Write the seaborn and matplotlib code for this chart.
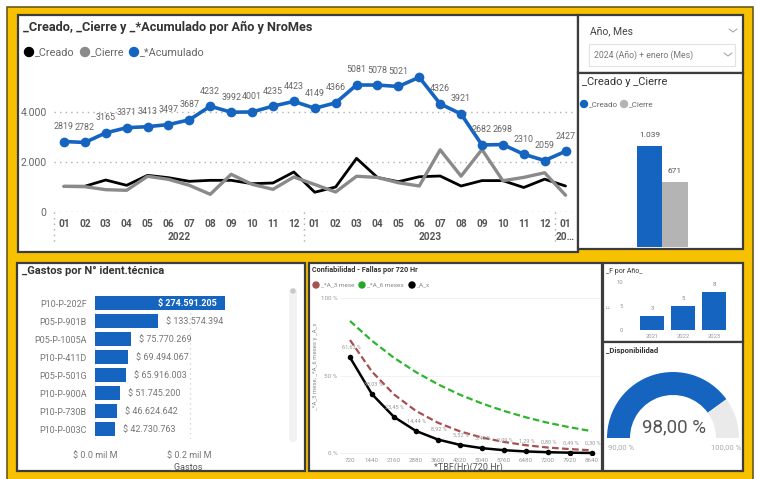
import numpy as np
import pandas as pd
import matplotlib
matplotlib.use("Agg")
import matplotlib.pyplot as plt
from matplotlib.patches import Rectangle, Wedge, FancyBboxPatch, Circle
import seaborn as sns

# ---------------- data ----------------
meses = ["01", "02", "03", "04", "05", "06", "07", "08", "09", "10", "11", "12"] * 2 + ["01"]
anios = ["2022"] * 12 + ["2023"] * 12 + ["2024"]
creado = [1027, 1030, 1280, 1067, 1467, 1373, 1227, 1267, 1267, 1133, 1160, 1600,
          790, 1000, 2145, 1380, 1212, 1410, 1440, 1040, 1255, 1255, 980, 1314, 1039]
cierre = [1027, 1013, 893, 867, 1427, 1307, 1067, 707, 1507, 1107, 907, 1400,
          1100, 800, 1430, 1382, 1171, 1040, 2487, 1434, 2500, 1250, 1385, 1570, 671]
acumulado = [2819, 2782, 3165, 3371, 3413, 3497, 3687, 4232, 3992, 4001, 4235, 4423,
             4149, 4366, 5081, 5078, 5021, 5390, 4326, 3921, 2682, 2698, 2310, 2059, 2427]
acum_sin_etiqueta = [17]

slicer_texto = "2024 (Año) + enero (Mes)"
sel_series = ["_Creado", "_Cierre"]
sel_valores = [1039, 671]

equipos = ["P10-P-202F", "P05-P-901B", "P05-P-1005A", "P10-P-411D",
           "P05-P-501G", "P10-P-900A", "P10-P-730B", "P10-P-003C"]
gastos = [274591205, 133574394, 75770269, 69494067, 65916003, 51745200, 46624642, 42730763]

tbf_hr = [720, 1440, 2160, 2880, 3600, 4320, 5040, 5760, 6480, 7200, 7920, 8640]
conf_3m = [72.8, 52.5, 37.9, 27.3, 19.7, 14.2, 10.2, 7.4, 5.3, 3.8, 2.8, 2.0]
conf_6m = [85.0, 72.3, 61.4, 52.2, 44.4, 37.7, 32.1, 27.3, 23.2, 19.7, 16.8, 14.3]
conf_x = [61.63, 38.03, 23.45, 14.44, 8.92, 5.52, 3.40, 2.09, 1.29, 0.80, 0.49, 0.30]

f_anios = ["2021", "2022", "2023"]
f_valores = [3, 5, 8]

disp_min, disp_max, disp_valor = 90.0, 100.0, 98.0

# ---------------- style ----------------
sns.set_style("white")
plt.rcParams["font.family"] = ["Roboto", "DejaVu Sans"]

BLUE = "#1565C0"
GRAY_LINE = "#8a8a8a"
LIGHT_BAR = "#b4b4b4"
YELLOW = "#F7C100"
TXT = "#666666"
TITLE = "#333333"

W, H = 757, 479
fig = plt.figure(figsize=(W / 100, H / 100), dpi=100)


def px_axes(x0, y0, x1, y1, z=1):
    ax = fig.add_axes([x0 / W, 1 - y1 / H, (x1 - x0) / W, (y1 - y0) / H], zorder=z)
    ax.set_facecolor("none")
    return ax


def pixel_canvas(z):
    ax = px_axes(0, 0, W, H, z)
    ax.set_xlim(0, W)
    ax.set_ylim(H, 0)
    ax.axis("off")
    return ax


bg = pixel_canvas(0)
ov = pixel_canvas(10)

# frame and panels
bg.add_patch(Rectangle((0, 0), W, H, color="white"))
bg.add_patch(Rectangle((7, 7), 746, 480, fc=YELLOW, ec="#6b5a1e", lw=1.2))
panels = [(18, 15, 578, 252), (578, 15, 743, 73), (578, 73, 743, 249),
          (17, 263, 305, 471), (309, 263, 602, 471), (603, 263, 743, 342), (603, 342, 743, 471)]
for x0, y0, x1, y1 in panels:
    bg.add_patch(Rectangle((x0, y0), x1 - x0, y1 - y0, fc="white", ec="#3c3c3c", lw=1.6))

dotted = (0, (1, 3))

# ---------------- main line chart ----------------
ov.text(23, 27, "_Creado, _Cierre y _*Acumulado por Año y NroMes", fontsize=9.2,
        weight="bold", color=TITLE, va="center")
for cx, col, lab in [(29, "black", "_Creado"), (85, "#8a8a8a", "_Cierre"), (134, BLUE, "_*Acumulado")]:
    ov.add_patch(Circle((cx, 52), 4.5, color=col))
    ov.text(cx + 6, 52, lab, fontsize=7.8, color=TXT, va="center")

df = pd.DataFrame({"idx": range(len(meses)), "mes": meses, "anio": anios,
                   "creado": creado, "cierre": cierre, "acumulado": acumulado})
ax1 = px_axes(53.5, 70, 576, 212, 2)
sns.lineplot(data=df, x="idx", y="creado", color="black", lw=2.0, ax=ax1)
sns.lineplot(data=df, x="idx", y="cierre", color=GRAY_LINE, lw=2.4, ax=ax1)
sns.lineplot(data=df, x="idx", y="acumulado", color=BLUE, lw=2.6, marker="o",
             markersize=7, markeredgewidth=0, ax=ax1)
ax1.set_xlim(-0.5, len(meses) - 0.5)
ax1.set_ylim(0, 5680)
ax1.set_yticks([0, 2000, 4000])
ax1.set_yticklabels(["0", "2.000", "4.000"])
ax1.set_xticks([])
ax1.tick_params(axis="y", length=0, pad=5, labelsize=7.5, labelcolor=TXT)
ax1.grid(axis="y", linestyle=dotted, color="#b0b0b0", lw=1)
ax1.set_xlabel("")
ax1.set_ylabel("")
for s in ax1.spines.values():
    s.set_visible(False)
for i, v in enumerate(acumulado):
    if i not in acum_sin_etiqueta:
        ax1.annotate(f"{v}", (i, v), xytext=(0, 15), textcoords="offset pixels",
                     ha="center", va="center", fontsize=6.4, color=TXT)
for i, m in enumerate(meses):
    ax1.annotate(m, (i, 0), xytext=(0, -12), textcoords="offset pixels", ha="center",
                 va="center", fontsize=7.3, color="#555", weight="bold", annotation_clip=False)
year_groups = df.groupby("anio")["idx"].agg(["min", "max"])
for anio, row in year_groups.iterrows():
    label = anio if row["max"] > row["min"] else anio[:2] + "…"
    ax1.annotate(label, ((row["min"] + row["max"]) / 2, 0), xytext=(0, -25),
                 textcoords="offset pixels", ha="center", va="center", fontsize=7.3,
                 color="#555", weight="bold", annotation_clip=False)
    ax1.plot([row["min"] - 0.5] * 2, [0, -33 / 142], transform=ax1.get_xaxis_transform(),
             color="#aaaaaa", lw=1, linestyle=dotted, clip_on=False)

# ---------------- slicer ----------------
ov.text(590, 31, "Año, Mes", fontsize=7.5, color="#444", va="center")
ov.plot([729, 733, 737], [29, 32, 29], color="#aaaaaa", lw=0.8)
ov.add_patch(Rectangle((589, 44), 146, 22, fc="white", ec="#e2e2e2", lw=0.8))
ov.text(594, 55, slicer_texto, fontsize=6.3, color="#777", va="center")
ov.plot([724, 728, 732], [53, 56, 53], color="#aaaaaa", lw=0.8)

# ---------------- creado / cierre bars ----------------
ov.text(582, 82, "_Creado y _Cierre", fontsize=8, color=TITLE, va="center")
ov.add_patch(Circle((584, 104), 3.5, color=BLUE))
ov.text(589, 104, "_Creado", fontsize=5.8, color=TXT, va="center")
ov.add_patch(Circle((624, 104), 3.5, color=LIGHT_BAR))
ov.text(629, 104, "_Cierre", fontsize=5.8, color=TXT, va="center")

ax2 = px_axes(612, 115, 713, 247, 2)
sns.barplot(x=sel_series, y=sel_valores, hue=sel_series, palette=[BLUE, LIGHT_BAR],
            width=1.0, saturation=1, linewidth=0, legend=False, ax=ax2)
ax2.set_xlim(-1.47, 2.49)
ax2.set_ylim(0, 1358)
ax2.axis("off")
for i, v in enumerate(sel_valores):
    ax2.annotate(f"{v:,}".replace(",", "."), (i, v), xytext=(0, 11), textcoords="offset pixels",
                 ha="center", va="center", fontsize=6, color="#555")

# ---------------- gastos ----------------
ov.text(22, 271, "_Gastos por N° ident.técnica", fontsize=8, weight="bold", color=TITLE, va="center")
ax3 = px_axes(95, 294, 280, 439, 2)
sns.barplot(x=gastos, y=equipos, orient="h", color=BLUE, saturation=1, width=0.78,
            linewidth=0, ax=ax3)
ax3.set_xlim(0, 390.7e6)
ax3.set_ylim(7.54, -0.517)
ax3.set_xticks([0, 2e8])
ax3.set_xticklabels(["$ 0.0 mil M", "$ 0.2 mil M"])
ax3.tick_params(axis="x", length=0, pad=9, labelsize=6.5, labelcolor="#777")
ax3.tick_params(axis="y", length=0, pad=6, labelsize=6.5, labelcolor="#777")
ax3.grid(axis="x", linestyle=dotted, color="#cccccc", lw=0.9)
ax3.set_axisbelow(True)
ax3.set_xlabel("_Gastos", fontsize=6.5, color="#555", labelpad=1)
ax3.set_ylabel("")
for s in ax3.spines.values():
    s.set_visible(False)
for i, v in enumerate(gastos):
    txt = "$ " + f"{v:,}".replace(",", ".")
    if v > 2e8:
        ax3.annotate(txt, (v, i), xytext=(-8, 0), textcoords="offset pixels", ha="right",
                     va="center", fontsize=6.5, color="white", weight="bold")
    else:
        ax3.annotate(txt, (v, i), xytext=(8, 0), textcoords="offset pixels", ha="left",
                     va="center", fontsize=6.5, color="#777")
ov.add_patch(FancyBboxPatch((289, 288), 8, 154, boxstyle="round,pad=0,rounding_size=4",
                            fc="#f2f2f2", ec="none"))
ov.add_patch(Circle((293, 291), 2, color="#c8c8c8"))

# ---------------- confiabilidad ----------------
ov.text(312, 270, "Confiabilidad - Fallas por 720 Hr", fontsize=5.2, weight="bold",
        color=TITLE, va="center")
for cx, col, lab in [(316, "#a85050", "_*A_3 mese"), (362, "#25a825", "_*A_6 meses"),
                     (412, "black", "_A_x")]:
    ov.add_patch(Circle((cx, 285), 3, color=col))
    ov.text(cx + 5, 285, lab, fontsize=4.6, color="#888", va="center")

ax4 = px_axes(340, 290, 600, 455, 2)
sns.lineplot(x=tbf_hr, y=conf_6m, color="#2db52d", lw=1.6, linestyle=(0, (3, 1.5)), ax=ax4)
sns.lineplot(x=tbf_hr, y=conf_3m, color="#a85050", lw=1.6, linestyle=(0, (3, 1.5)), ax=ax4)
sns.lineplot(x=tbf_hr, y=conf_x, color="black", lw=1.8, marker="o", markersize=4,
             markeredgewidth=0, ax=ax4)
ax4.set_xlim(392, 8912)
ax4.set_ylim(-1, 104.9)
ax4.set_xticks(tbf_hr)
ax4.set_xticklabels([str(t) for t in tbf_hr])
ax4.set_yticks([0, 50, 100])
ax4.set_yticklabels(["0 %", "50 %", "100 %"])
ax4.tick_params(length=0, labelsize=4.5, labelcolor="#999", pad=2)
ax4.grid(axis="y", color="#f0f0f0", lw=0.6)
ax4.set_xlabel("")
ax4.set_ylabel("")
for s in ax4.spines.values():
    s.set_visible(False)
for t, v in zip(tbf_hr, conf_x):
    ax4.annotate(f"{v:.2f} %".replace(".", ","), (t, v), xytext=(1, 10),
                 textcoords="offset pixels", ha="center", va="center", fontsize=4,
                 color="#999")
ov.text(316, 366, "_*A_3 mese, _*A_6 meses y _A_x", rotation=90, fontsize=4.3,
        color="#888", ha="center", va="center")
ov.text(468, 467, "*TBF(Hr)(720 Hr)", fontsize=6.5, color="#555", ha="center", va="center")

# ---------------- F por año ----------------
ov.text(606, 271, "_F por Año_", fontsize=5, color=TITLE, va="center")
ax5 = px_axes(627, 278, 735, 330, 2)
sns.barplot(x=f_anios, y=f_valores, color=BLUE, width=0.77, saturation=1, linewidth=0, ax=ax5)
ax5.set_xlim(-0.82, 2.68)
ax5.set_ylim(0, 10.83)
ax5.set_yticks([0, 5, 10])
ax5.tick_params(length=0, labelsize=4.2, labelcolor="#999", pad=3)
ax5.set_xlabel("")
ax5.set_ylabel("")
for s in ax5.spines.values():
    s.set_visible(False)
for i, v in enumerate(f_valores):
    ax5.annotate(str(v), (i, v), xytext=(0, 7), textcoords="offset pixels", ha="center",
                 va="center", fontsize=4.2, color="#888")
ov.text(609, 306, "F", rotation=90, fontsize=4, color="#999", ha="center", va="center")

# ---------------- disponibilidad gauge ----------------
ov.text(606, 350, "_Disponibilidad", fontsize=5.5, weight="bold", color=TITLE, va="center")
gc, r_out, r_in = (673, 438), 66, 43
frac = (disp_valor - disp_min) / (disp_max - disp_min)
ang_split = 180 + 180 * frac
ov.add_patch(Wedge(gc, r_out, 180, ang_split, width=r_out - r_in, color=BLUE, lw=0))
ov.add_patch(Wedge(gc, r_out, ang_split, 360, width=r_out - r_in, color="#eaeaea", lw=0))
ov.text(674, 427, f"{disp_valor:.2f} %".replace(".", ","), fontsize=13.5, color="#555",
        ha="center", va="center")
ov.text(608, 447, f"{disp_min:.2f} %".replace(".", ","), fontsize=5.5, color="#aaa",
        ha="left", va="center")
ov.text(741, 447, f"{disp_max:.2f} %".replace(".", ","), fontsize=5.5, color="#aaa",
        ha="right", va="center")

fig.savefig("out.png", dpi=100)
